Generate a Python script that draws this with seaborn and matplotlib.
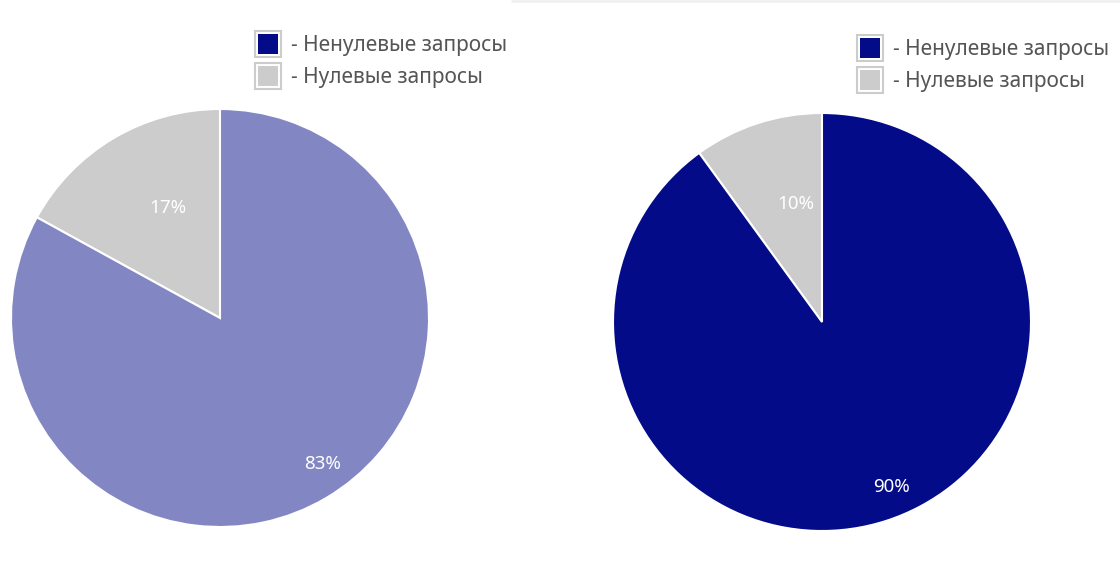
import numpy as np
import matplotlib
matplotlib.use("Agg")
import matplotlib.pyplot as plt
from matplotlib.patches import Rectangle
from matplotlib.lines import Line2D
import seaborn as sns

# data
categories = ["- Ненулевые запросы", "- Нулевые запросы"]
left_values = [83, 17]
right_values = [90, 10]
legend_colors = ["#030b88", "#cccccc"]
left_colors = ["#8287c4", "#cccccc"]
right_colors = ["#030b88", "#cccccc"]

sns.set_theme(style="white")
plt.rcParams['font.family'] = ['Noto Sans', 'DejaVu Sans']

W, H = 1120, 566
fig = plt.figure(figsize=(W / 100, H / 100), dpi=100)


def fx(x):
    return x / W


def fy(y):
    return 1 - y / H


def draw_pie(cx, cy, r, values, colors):
    ax = fig.add_axes([fx(cx - r), fy(cy + r), 2 * r / W, 2 * r / H])
    # grey slice first so it sits counterclockwise from 12 o'clock
    vals = values[::-1]
    cols = colors[::-1]
    wedges, _ = ax.pie(vals, colors=cols, startangle=90, counterclock=True,
                       radius=1, wedgeprops=dict(edgecolor="white", linewidth=1.5))
    dists = [0.59, 0.845]
    shifts = [-5.5, 5.0]
    for w, v, d, s in zip(wedges, vals, dists, shifts):
        mid = np.deg2rad((w.theta1 + w.theta2) / 2 + s)
        ax.text(d * np.cos(mid), d * np.sin(mid) - 0.01, f"{v}%", color="white",
                fontsize=13.5, ha="center", va="center")
    ax.set_xlim(-1, 1)
    ax.set_ylim(-1, 1)
    ax.axis("off")


def draw_legend(x, y, step):
    for i, (lab, col) in enumerate(zip(categories, legend_colors)):
        cy = y + i * step
        fig.add_artist(Rectangle((fx(x - 13), fy(cy + 13)), 26 / W, 26 / H,
                                 transform=fig.transFigure, facecolor="white",
                                 edgecolor="#cccccc", linewidth=1.5))
        fig.add_artist(Rectangle((fx(x - 10), fy(cy + 10)), 20 / W, 20 / H,
                                 transform=fig.transFigure, facecolor=col,
                                 edgecolor="none"))
        fig.text(fx(x + 23), fy(cy + 2), lab, color="#555555", fontsize=15,
                 ha="left", va="center")


draw_pie(220, 318, 209, left_values, left_colors)
draw_pie(822, 322, 209, right_values, right_colors)
draw_legend(268, 44, 32)
draw_legend(870, 48, 32)

fig.add_artist(Line2D([fx(512), 1], [fy(1), fy(1)], transform=fig.transFigure,
                      color="#f0f0f0", linewidth=2))

fig.savefig("out.png", dpi=100)
